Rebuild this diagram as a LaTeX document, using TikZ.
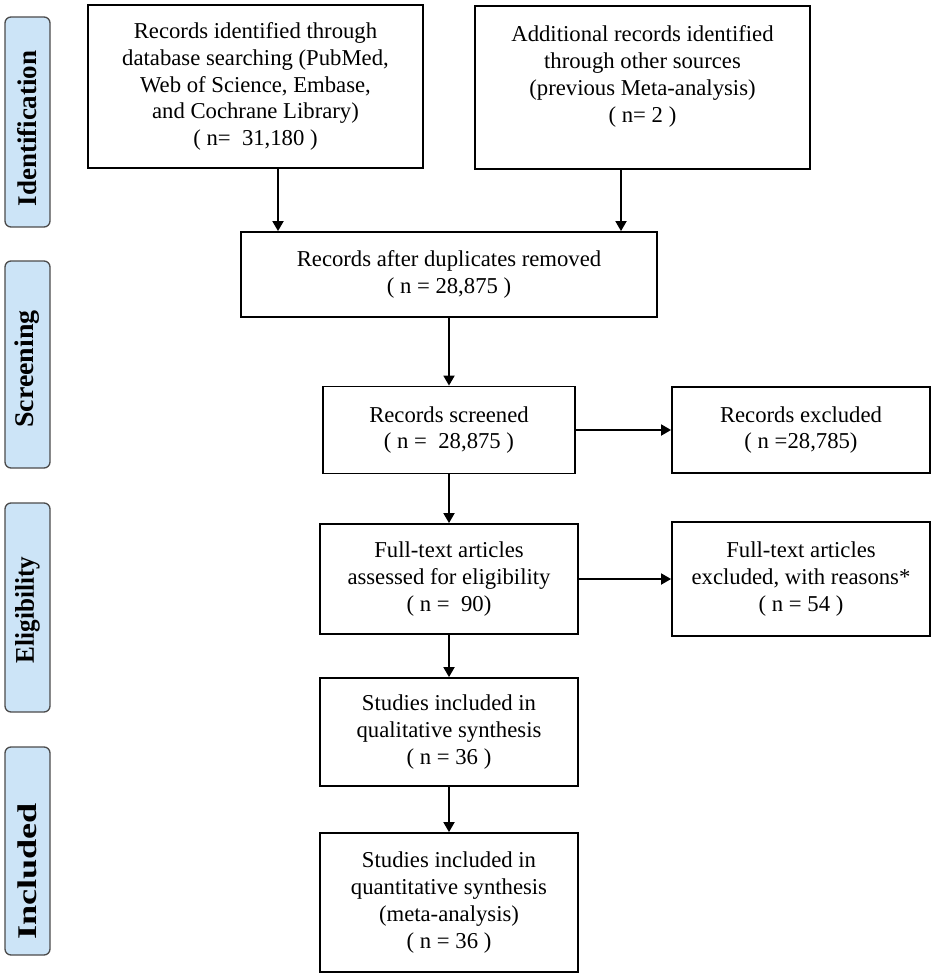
\documentclass[tikz,border=0pt]{standalone}
\usepackage{fontspec}
\setmainfont{Liberation Serif}
\usetikzlibrary{arrows.meta}
\definecolor{tabfill}{RGB}{204,228,247}
\definecolor{tabline}{RGB}{75,75,75}
\tikzset{
  box/.style={draw=black, line width=1.8pt, fill=white, inner sep=0pt, align=center,
    font=\fontsize{22.7pt}{26.8pt}\selectfont},
  tab/.style={draw=tabline, line width=1.3pt, fill=tabfill, rounded corners=6pt,
    inner sep=0pt, minimum height=45pt, rotate=90,
    font=\fontsize{27pt}{30pt}\selectfont\bfseries},
  arr/.style={line width=1.8pt, -{Triangle[length=10pt,width=11pt]}}
}
\begin{document}
\begin{tikzpicture}[x=1pt,y=-1pt]
\useasboundingbox (0,0) rectangle (935,976);
% phase tabs
\node[tab, minimum width=210pt] (tid) at (27.5,122)
  {\scalebox{1.0}[1]{Identification}\hspace*{13pt}};
\node[tab, minimum width=207pt] (tsc) at (27.5,364.5)
  {\scalebox{1.035}[1]{Screening}\hspace*{9pt}};
\node[tab, minimum width=209pt] (tel) at (27.5,607.5)
  {\scalebox{0.93}[1]{Eligibility}\hspace*{5pt}};
\node[tab, minimum width=208pt] (tin) at (27.5,851)
  {\scalebox{1.34}[1]{Included}\hspace*{41pt}};
% boxes
\node[box, minimum width=335pt, minimum height=163pt] (b1) at (255.5,86.5)
  {Records identified through\\database searching (PubMed,\\Web of Science, Embase,\\and Cochrane Library)\\( n=\ \ 31,180 )};
\node[box, minimum width=335pt, minimum height=163pt] (b2) at (642.5,87.5)
  {Additional records identified\\through other sources\\(previous Meta-analysis)\\( n= 2 )\\\mbox{}};
\node[box, minimum width=416pt, minimum height=85pt] (b3) at (449,274.5)
  {Records after duplicates removed\\( n = 28,875 )};
\node[box, minimum width=252pt, minimum height=87pt] (b4) at (449,430)
  {Records screened\\( n =\ \ 28,875 )};
\node[box, minimum width=258pt, minimum height=86pt] (b5) at (801,430)
  {Records excluded\\( n =28,785)};
\node[box, minimum width=258pt, minimum height=110pt] (b6) at (449,579)
  {Full-text articles\\assessed for eligibility\\( n =\ \ 90)};
\node[box, minimum width=258pt, minimum height=114pt] (b7) at (801,579)
  {Full-text articles\\excluded, with reasons*\\( n = 54 )};
\node[box, minimum width=258pt, minimum height=108pt] (b8) at (449,732)
  {Studies included in\\qualitative synthesis\\( n = 36 )};
\node[box, minimum width=258pt, minimum height=139pt] (b9) at (449,902.5)
  {Studies included in\\quantitative synthesis\\(meta-analysis)\\( n = 36 )};
% connectors
\draw[arr] ([xshift=22.5pt]b1.south) -- ([xshift=22.5pt]b1.south |- b3.north);
\draw[arr] ([xshift=-21.5pt]b2.south) -- ([xshift=-21.5pt]b2.south |- b3.north);
\draw[arr] (b3.south) -- (b4.north);
\draw[arr] (b4.east) -- (b5.west);
\draw[arr] (b4.south) -- (b6.north);
\draw[arr] (b6.east) -- (b7.west);
\draw[arr] (b6.south) -- (b8.north);
\draw[arr] (b8.south) -- (b9.north);
\end{tikzpicture}
\end{document}
